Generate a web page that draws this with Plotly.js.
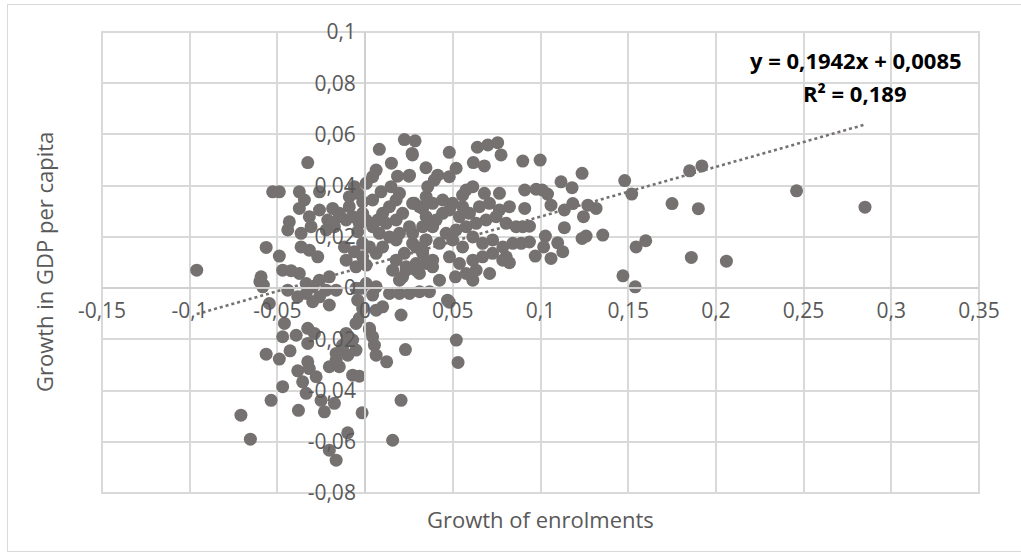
<!DOCTYPE html>
<html>
<head>
<meta charset="utf-8">
<script src="https://cdn.plot.ly/plotly-3.0.1.min.js"></script>
<style>
html,body{margin:0;padding:0;background:#fff;overflow:hidden;}
#frame{position:absolute;left:7px;top:4px;width:1040px;height:548px;border:1px solid #d9d9d9;box-sizing:border-box;}
#chart{position:absolute;left:0;top:0;width:1021px;height:559px;}
</style>
</head>
<body>
<div id="frame"></div>
<div id="chart"></div>
<script>
// Growth of enrolments (x) vs growth in GDP per capita (y)
const enrolGrowth = [
-0.096,-0.0708,-0.0654,0.246,0.285,0.206,0.186,0.185,0.192,0.19,0.175,0.148,0.152,0.147,0.154,0.1545,0.16,0.1355,
0.0224,0.0285,0.027,0.048,0.0347,0.025,0.064,0.070,0.0756,0.0775,0.0617,0.068,0.0519,0.048,0.0414,0.0357,0.0899,0.0998,0.1237,0.1117,0.118,
0.091,0.0975,0.101,0.104,0.106,0.091,0.1136,0.1184,0.127,0.1317,0.1245,0.1136,0.1028,0.1018,0.1098,0.1127,0.106,0.097,0.1237,0.126,
0.0899,0.0937,0.089,0.0937,0.0804,0.0823,0.071,0.0614,0.0515,0.047,0.048,0.052,0.053,
0.023,0.0205,0.0157,-0.0017,0.0123,0.0053,0.0063,0.0043,0.0025,0.0205,
-0.058,-0.060,-0.0546,-0.0441,-0.0384,-0.0336,-0.0299,-0.026,-0.0222,-0.0204,-0.046,-0.047,-0.0393,-0.0327,-0.0289,-0.0327,-0.0564,-0.0489,-0.0428,-0.0327,-0.0384,-0.0318,-0.0279,-0.0356,-0.047,-0.0536,-0.0336,-0.0251,-0.0232,-0.0175,-0.038,-0.0204,-0.0165,-0.0099,
-0.0204,-0.0147,-0.0165,-0.0071,-0.0033,-0.0108,-0.0071,-0.0052,-0.0128,-0.0099,-0.0165,-0.0128,-0.0033,0.0025,-0.0052,-0.0014,0.0063,0.01,-0.0042,-0.0023,0.0063,0.0043,0.0139,0.0196,0.0253,0.031,0.0367,
-0.0327,-0.0527,-0.0489,-0.0375,-0.0346,-0.0375,-0.0318,-0.026,-0.0432,-0.0441,-0.0564,-0.0489,-0.0365,-0.0318,-0.027,-0.0365,-0.0308,-0.047,-0.0422,-0.0375,-0.0336,-0.0299,-0.0593,-0.0584,
-0.026,-0.0185,-0.0213,-0.0147,-0.0222,-0.0175,-0.0118,-0.0061,-0.0014,-0.0052,0.0006,-0.0108,-0.0204,-0.0165,-0.026,
-0.0061,0.0006,0.0043,0.0063,-0.009,-0.0042,-0.0014,-0.009,-0.0014,0.0043,0.0091,0.0148,-0.0147,-0.0108,-0.0071,-0.0033,0.0006,0.0043,-0.0042,
0.0081,0.0268,0.0253,0.0139,0.0177,0.01,0.0072,0.012,0.0177,0.0214,0.0281,0.0328,0.0081,0.0139,0.0177,0.01,0.0063,0.0025,-0.0014,0.0177,0.0234,0.029,0.0347,0.0214,0.0157,0.029,0.0328,0.0347,0.0271,0.0328,0.0006,-0.0052,
0.0253,0.0196,0.0224,0.0271,0.0328,0.029,0.0271,0.031,0.0385,0.0442,0.0499,0.0556,0.0348,0.0405,0.0442,0.0481,0.0538,0.0595,0.0652,0.0709,0.0766,0.0823,
0.0385,0.0462,0.0519,0.0576,0.0633,0.069,0.0747,0.0804,0.0861,0.0348,0.0424,0.0499,0.0556,0.0614,0.067,0.0727,0.0785,0.0842,
0.0385,0.0481,0.0538,0.0614,0.067,0.0727,0.0785,0.0234,0.031,0.0385,0.0424,0.0196,0.0576,0.0633,
0.0395,0.0576,0.0614,0.0766,0.0556,0.068,0.0348,0.0196,0.015,0.0185
];
const gdpGrowth = [
0.007,-0.0496,-0.059,0.038,0.0316,0.0105,0.012,0.0458,0.0477,0.031,0.033,0.042,0.0367,0.0048,0.0005,0.0161,0.0185,0.0207,
0.058,0.0575,0.052,0.053,0.047,0.0437,0.055,0.0559,0.0568,0.052,0.049,0.0477,0.0468,0.0435,0.0441,0.0396,0.0496,0.05,0.0448,0.0415,0.0392,
0.0383,0.0386,0.0383,0.0367,0.0324,0.0311,0.0305,0.033,0.0324,0.0311,0.0279,0.0236,0.0203,0.0161,0.0177,0.0142,0.0116,0.0125,0.0194,0.0203,
0.024,0.0242,0.0175,0.018,0.0122,0.0099,0.0057,0.0031,0.0044,-0.0047,-0.0055,-0.0203,-0.029,
-0.024,-0.0438,-0.0594,-0.0487,-0.0288,-0.0223,-0.0262,-0.019,-0.0164,-0.0105,
0.0012,0.0025,-0.006,-0.0008,-0.0034,-0.0021,-0.0053,-0.0034,-0.0008,-0.0066,-0.0138,-0.019,-0.0184,-0.0157,-0.0177,-0.0216,-0.0258,-0.0277,-0.0245,-0.0288,-0.0323,-0.0314,-0.0346,-0.0366,-0.0385,-0.0438,-0.0411,-0.0438,-0.0483,-0.045,-0.0477,-0.0633,-0.0672,-0.0565,
-0.0307,-0.0307,-0.0281,-0.034,-0.0344,-0.0177,-0.0203,-0.0242,-0.0223,-0.0262,-0.0255,-0.0229,-0.0118,-0.0157,-0.0138,-0.0079,-0.0086,-0.0073,-0.0047,-0.0001,0.0005,-0.0027,-0.0021,-0.0021,-0.0021,-0.0014,-0.0014,
0.049,0.0376,0.0376,0.0376,0.0344,0.0311,0.0279,0.0376,0.0259,0.0227,0.0159,0.0125,0.0161,0.0148,0.0122,0.0214,0.024,0.007,0.0068,0.0057,0.0018,0.0005,0.0044,0.0005,
0.0305,0.0311,0.0266,0.0279,0.0227,0.024,0.0161,0.0142,0.0122,0.0083,0.009,0.0109,0.0044,-0.0008,0.0031,
0.0396,0.0409,0.0435,0.0461,0.0357,0.037,0.0337,0.0318,0.0292,0.0344,0.0376,0.0396,0.0292,0.0266,0.0279,0.0253,0.0266,0.024,0.022,
0.0542,0.0526,0.0441,0.0318,0.0344,0.0292,0.0266,0.0253,0.0266,0.0292,0.0331,0.0311,0.0214,0.02,0.0188,0.0161,0.0136,0.0161,0.0175,0.0109,0.0083,0.007,0.0096,0.0044,0.007,0.0161,0.0136,0.0188,0.0214,0.024,0.0018,-0.0001,
0.024,0.0214,0.0136,0.0175,0.0148,0.0096,0.0331,0.0318,0.0331,0.0344,0.0331,0.0318,0.0279,0.0266,0.0292,0.0305,0.0279,0.0292,0.0318,0.0331,0.0305,0.0318,
0.024,0.0214,0.0227,0.024,0.0253,0.0266,0.0279,0.0253,0.024,0.0188,0.0175,0.0188,0.0161,0.02,0.0175,0.0188,0.0161,0.0175,
0.0109,0.0122,0.0096,0.0109,0.0122,0.0136,0.0109,0.007,0.0057,0.0083,0.0031,0.0031,0.0057,0.007,
0.0422,0.0383,0.0396,0.037,0.0363,0.037,0.0357,0.037,0.0488,0.0437
];
// Linear trend (from the chart's equation)
const trendSlope = 0.1942;
const trendIntercept = 0.0085;
const trendXRange = [-0.096, 0.285];
const equationText = "y = 0,1942x + 0,0085";
const r2Text = "R² = 0,189";

const xTickVals = [-0.15,-0.1,-0.05,0,0.05,0.1,0.15,0.2,0.25,0.3,0.35];
const xTickText = ["-0,15","-0,1","-0,05","0","0,05","0,1","0,15","0,2","0,25","0,3","0,35"];
const yTickVals = [-0.08,-0.06,-0.04,-0.02,0,0.02,0.04,0.06,0.08,0.1];
const yTickText = ["-0,08","-0,06","-0,04","-0,02","0","0,02","0,04","0,06","0,08","0,1"];
const xTitle = "Growth of enrolments";
const yTitle = "Growth in GDP per capita";

const grey = '#767171';
const trendX = trendXRange;
const trendY = trendXRange.map(v => trendSlope * v + trendIntercept);

const traces = [
  {x: trendX, y: trendY, type: 'scatter', mode: 'lines',
   line: {color: grey, width: 2.6, dash: 'dot'}, hoverinfo: 'skip', showlegend: false},
  {x: enrolGrowth, y: gdpGrowth, type: 'scatter', mode: 'markers',
   marker: {color: grey, size: 13, line: {width: 0}}, showlegend: false}
];

const tickFont = {family: 'Open Sans, sans-serif', size: 21, color: '#595959'};
const layout = {
  width: 1021, height: 559,
  margin: {l: 102, r: 42, t: 32, b: 66, pad: 0},
  paper_bgcolor: 'rgba(0,0,0,0)', plot_bgcolor: 'rgba(0,0,0,0)',
  showlegend: false,
  xaxis: {
    range: [-0.15, 0.35], tickvals: xTickVals, ticktext: xTickText,
    showgrid: true, gridcolor: '#d9d9d9', gridwidth: 2, zeroline: false,
    showline: true, linecolor: '#d0d0d0', linewidth: 2,
    anchor: 'free', position: 4/9, ticks: '', tickfont: tickFont, ticklabelstandoff: 4
  },
  yaxis: {
    range: [-0.08, 0.1], tickvals: yTickVals, ticktext: yTickText,
    showgrid: true, gridcolor: '#d9d9d9', gridwidth: 2, zeroline: false,
    showline: true, linecolor: '#d0d0d0', linewidth: 2,
    anchor: 'free', position: 0.3, ticks: '', tickfont: tickFont, ticklabelstandoff: 4
  },
  shapes: [
    {type: 'rect', xref: 'paper', yref: 'paper', x0: 0, x1: 1, y0: 0, y1: 1,
     line: {color: '#d9d9d9', width: 2}, layer: 'below'}
  ],
  annotations: [
    {text: xTitle, xref: 'paper', yref: 'paper', x: 0.5, y: -0.0564, showarrow: false,
     xanchor: 'center', yanchor: 'middle', font: {family: 'Open Sans, sans-serif', size: 22, color: '#595959'}},
    {text: yTitle, xref: 'paper', yref: 'paper', x: -0.0661, y: 0.501, showarrow: false, textangle: -90,
     xanchor: 'center', yanchor: 'middle', font: {family: 'Open Sans, sans-serif', size: 22, color: '#595959'}},
    {text: '<b>' + equationText + '</b>', xref: 'paper', yref: 'paper', x: 0.8597, y: 0.939, showarrow: false,
     xanchor: 'center', yanchor: 'middle', font: {family: 'Open Sans, sans-serif', size: 22, color: '#000'}},
    {text: '<b>' + r2Text + '</b>', xref: 'paper', yref: 'paper', x: 0.8586, y: 0.868, showarrow: false,
     xanchor: 'center', yanchor: 'middle', font: {family: 'Open Sans, sans-serif', size: 22, color: '#000'}}
  ]
};

Plotly.newPlot('chart', traces, layout, {staticPlot: true, displayModeBar: false});
</script>
</body>
</html>
